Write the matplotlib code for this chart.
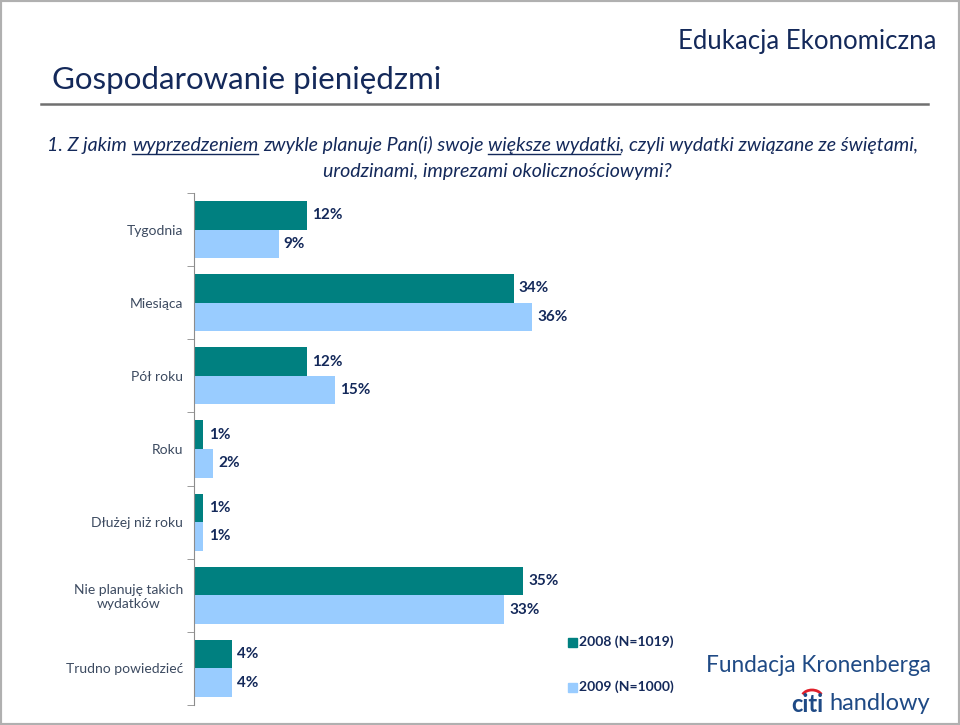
import numpy as np
import matplotlib.pyplot as plt
from matplotlib.patches import Rectangle, Arc
from matplotlib.lines import Line2D

categories = ["Tygodnia", "Miesiąca", "Pół roku", "Roku", "Dłużej niż roku",
              "Nie planuję takich\nwydatków", "Trudno powiedzieć"]
v2008 = [12, 34, 12, 1, 1, 35, 4]
v2009 = [9, 36, 15, 2, 1, 33, 4]
series_names = ["2008 (N=1019)", "2009 (N=1000)"]

teal = "#008080"
light = "#99ccff"
navy = "#14295a"
label_col = "#3c4a60"

plt.rcParams['font.family'] = ['Lato', 'DejaVu Sans']

W, H = 960, 725
fig = plt.figure(figsize=(9.6, 7.25), dpi=100)

def fx(px):
    return px / W

def fy(py):
    return 1 - py / H

# frame round the slide
fig.patches.append(Rectangle((0, 0), 1, 1, transform=fig.transFigure,
                             fill=False, edgecolor="#b0b0b0", lw=3))

fig.text(fx(936), fy(42), "Edukacja Ekonomiczna", ha="right", va="center",
         fontsize=18.5, color=navy)
fig.text(fx(52), fy(80), "Gospodarowanie pieniędzmi", ha="left", va="center",
         fontsize=22.5, color=navy)
fig.add_artist(Line2D([fx(41), fx(928)], [fy(104), fy(104)],
                      transform=fig.transFigure, color="#707070", lw=1.8))

# question, with underlined parts
def draw_line(segments, gaps, xc, ybase, **kw):
    r = fig.canvas.get_renderer()
    probe = fig.text(0, 0, "x x", **kw)
    w1 = probe.get_window_extent(r).width
    probe.set_text("xx")
    space = w1 - probe.get_window_extent(r).width
    probe.remove()
    texts = []
    widths = []
    for s, u in segments:
        t = fig.text(0, fy(ybase), s, va="baseline", ha="left", **kw)
        texts.append(t)
        widths.append(t.get_window_extent(r).width)
    total = sum(widths) + space * sum(gaps)
    x = xc - total / 2
    for i, (t, (s, u)) in enumerate(zip(texts, segments)):
        t.set_x(fx(x))
        if u:
            fig.add_artist(Line2D([fx(x), fx(x + widths[i])],
                                  [fy(ybase + 3), fy(ybase + 3)],
                                  transform=fig.transFigure, color=kw.get("color"), lw=1))
        x += widths[i]
        if i < len(gaps) and gaps[i]:
            x += space

qkw = dict(fontsize=14.1, style="italic", color=navy)
draw_line([("1. Z jakim", False), ("wyprzedzeniem", True),
           ("zwykle planuje Pan(i) swoje", False), ("większe wydatki", True),
           (", czyli wydatki związane ze świętami,", False)],
          [1, 1, 1, 0], 483, 151, **qkw)
draw_line([("urodzinami, imprezami okolicznościowymi?", False)], [], 497, 177, **qkw)

# chart
ax = fig.add_axes([fx(194), 1 - 705 / H, (930 - 194) / W, (705 - 193) / H])
y = np.arange(len(categories))
bh = 0.39
ax.barh(y - bh / 2, v2008, height=bh, color=teal)
ax.barh(y + bh / 2, v2009, height=bh, color=light)
ax.set_xlim(0, (930 - 194) / 9.4)
ax.set_ylim(len(categories) - 0.5, -0.5)
for s in ["top", "right", "bottom"]:
    ax.spines[s].set_visible(False)
ax.spines["left"].set_color("#8c8c8c")
ax.set_xticks([])
ax.set_yticks(y)
ax.set_yticklabels(categories, fontsize=10, color=label_col)
for lab in ax.get_yticklabels():
    lab.set_multialignment("center")
ax.tick_params(axis="y", which="major", length=0, pad=8)
ax.set_yticks(np.arange(-0.5, len(categories), 1), minor=True)
ax.tick_params(axis="y", which="minor", length=5, color="#8c8c8c")

for yy, v in zip(y, v2008):
    ax.text(v + 0.55, yy - bh / 2, f"{v}%", va="center", ha="left",
            fontsize=11, fontweight="bold", color=navy)
for yy, v in zip(y, v2009):
    ax.text(v + 0.55, yy + bh / 2, f"{v}%", va="center", ha="left",
            fontsize=11, fontweight="bold", color=navy)

# legend
for i, (name, c) in enumerate(zip(series_names, [teal, light])):
    yc = 642 + 45 * i
    fig.patches.append(Rectangle((fx(568), fy(yc + 5)), fx(9), 9 / H,
                                 transform=fig.transFigure, color=c))
    fig.text(fx(579), fy(yc), name, ha="left", va="center", fontsize=10,
             fontweight="bold", color=navy)

# logos
fig.text(fx(931), fy(665), "Fundacja Kronenberga", ha="right", va="center",
         fontsize=16.3, color="#1f4a85")
fig.text(fx(829), fy(704), "handlowy", ha="left", va="center",
         fontsize=17, color="#1f4a85")
fig.text(fx(823), fy(704), "citi", ha="right", va="center",
         fontsize=17, fontweight="bold", color="#1f4a85")
fig.add_artist(Arc((fx(812), fy(697)), fx(20), 14 / H, theta1=20, theta2=160,
                   transform=fig.transFigure, color="#e0202a", lw=2))

fig.savefig("out.png", dpi=100)
